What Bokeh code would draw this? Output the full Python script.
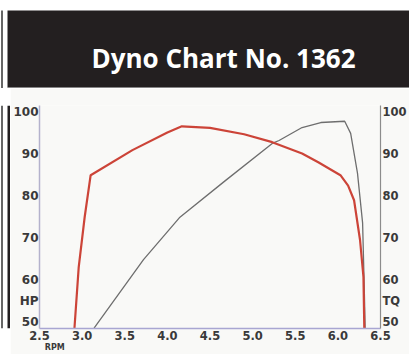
from bokeh.plotting import figure
from bokeh.models import Range1d, LinearAxis, FixedTicker, Label
from bokeh.layouts import column, row
from bokeh.embed import file_html
from bokeh.resources import INLINE

# ---- dyno run data (engine speed in thousands of RPM) ----
tq_rpm = [2.91, 2.96, 3.03, 3.10, 3.59, 4.00, 4.17, 4.50, 4.90, 5.23, 5.58,
          5.77, 6.03, 6.12, 6.19, 6.26, 6.30, 6.31]
tq_val = [48.4, 63.0, 75.0, 85.0, 91.0, 95.2, 96.7, 96.3, 94.8, 92.9, 90.2,
          88.1, 85.0, 82.5, 79.0, 69.5, 60.7, 48.4]

hp_rpm = [3.14, 3.72, 4.14, 4.68, 5.23, 5.31, 5.58, 5.80, 6.08, 6.15, 6.23,
          6.29, 6.31, 6.32]
hp_val = [48.4, 64.8, 74.8, 83.7, 92.6, 93.3, 96.4, 97.6, 97.9, 95.0, 85.5,
          73.6, 57.6, 48.4]

x_ticks = [2.5, 3.0, 3.5, 4.0, 4.5, 5.0, 5.5, 6.0, 6.5]
x_labels = ["2.5", "3.0", "3.5", "4.0", "4.5", "5.0", "5.5", "6.0", "6.5"]
y_ticks = [50, 55, 60, 70, 80, 90, 100]
y_labels = ["50", "", "60", "70", "80", "90", "100"]
left_unit, right_unit, x_unit = "HP", "TQ", "RPM"
title_text = "Dyno Chart No. 1362"

DARK = "#231f20"
PANEL = "#f9f9f7"
LABEL_COLOR = "#3a3a3a"

# ---- header banner ----
hdr = figure(width=409, height=88, x_range=Range1d(0, 409), y_range=Range1d(88, 0),
             toolbar_location=None, output_backend="svg",
             x_axis_location=None, y_axis_location=None, min_border=0)
hdr.grid.visible = False
hdr.outline_line_color = None
hdr.background_fill_color = "white"
hdr.border_fill_color = "white"
hdr.quad(left=7, right=409, top=10, bottom=87, fill_color=DARK, line_color=None)
hdr.segment(x0=1.5, y0=10, x1=1.5, y1=88, line_color="#333333", line_width=1.5)
hdr.segment(x0=7, y0=87.5, x1=409, y1=87.5, line_color="#7a7a7a", line_width=1)
hdr.add_layout(Label(x=223, y=57, text=title_text, text_font="Open Sans",
                     text_font_style="bold", text_font_size="26px", text_color="white",
                     text_align="center", text_baseline="alphabetic"))

# ---- dark frame strip on the left of the chart panel ----
strip = figure(width=10, height=266, x_range=Range1d(0, 10), y_range=Range1d(266, 0),
               toolbar_location=None, output_backend="svg",
               x_axis_location=None, y_axis_location=None, min_border=0)
strip.grid.visible = False
strip.outline_line_color = None
strip.background_fill_color = "white"
strip.border_fill_color = "white"
strip.quad(left=7, right=10, top=0, bottom=266, fill_color=DARK, line_color=None)
strip.segment(x0=1.5, y0=0, x1=1.5, y1=266, line_color="#333333", line_width=1.5)

# ---- chart panel ----
p = figure(width=399, height=266, x_range=Range1d(2.5, 6.5), y_range=Range1d(48.33, 101.67),
           toolbar_location=None, output_backend="svg",
           x_axis_location=None, y_axis_location=None,
           min_border_left=26, min_border_right=24, min_border_top=17, min_border_bottom=25)
p.grid.visible = False
p.outline_line_color = None
p.background_fill_color = PANEL
p.border_fill_color = PANEL


def style_axis(ax, size="12px", standoff=1):
    ax.major_tick_line_color = None
    ax.minor_tick_line_color = None
    ax.major_tick_out = 0
    ax.major_tick_in = 0
    ax.major_label_standoff = standoff
    ax.major_label_text_font = "DejaVu Sans"
    ax.major_label_text_font_style = "bold"
    ax.major_label_text_font_size = size
    ax.major_label_text_color = LABEL_COLOR


left_over = {t: l for t, l in zip(y_ticks, y_labels)}
left_over[55] = left_unit
yl = LinearAxis(ticker=FixedTicker(ticks=y_ticks), major_label_overrides=left_over,
                axis_line_color="#b4b2cc", axis_line_width=1.5)
style_axis(yl, standoff=1)
p.add_layout(yl, "left")

right_over = {t: l for t, l in zip(y_ticks, y_labels)}
right_over[55] = right_unit
yr = LinearAxis(ticker=FixedTicker(ticks=y_ticks), major_label_overrides=right_over,
                axis_line_color="#8c8c8c", axis_line_width=1.2)
style_axis(yr, size="11.5px", standoff=2)
p.add_layout(yr, "right")

xb = LinearAxis(ticker=FixedTicker(ticks=x_ticks),
                major_label_overrides={t: l for t, l in zip(x_ticks, x_labels)},
                axis_line_color="#a9a6d2", axis_line_width=1.5)
style_axis(xb, size="11.5px", standoff=2)
p.add_layout(xb, "below")

xu = LinearAxis(ticker=FixedTicker(ticks=[2.68]), major_label_overrides={2.68: x_unit},
                axis_line_color=None)
style_axis(xu, size="8px", standoff=0)
p.add_layout(xu, "below")

p.line(hp_rpm, hp_val, line_color="#6e6e6e", line_width=1.3)
p.line(tq_rpm, tq_val, line_color="#cc4438", line_width=2.2)

layout = column(hdr, row(strip, p))

open("out.html", "w").write(file_html(layout, INLINE))
